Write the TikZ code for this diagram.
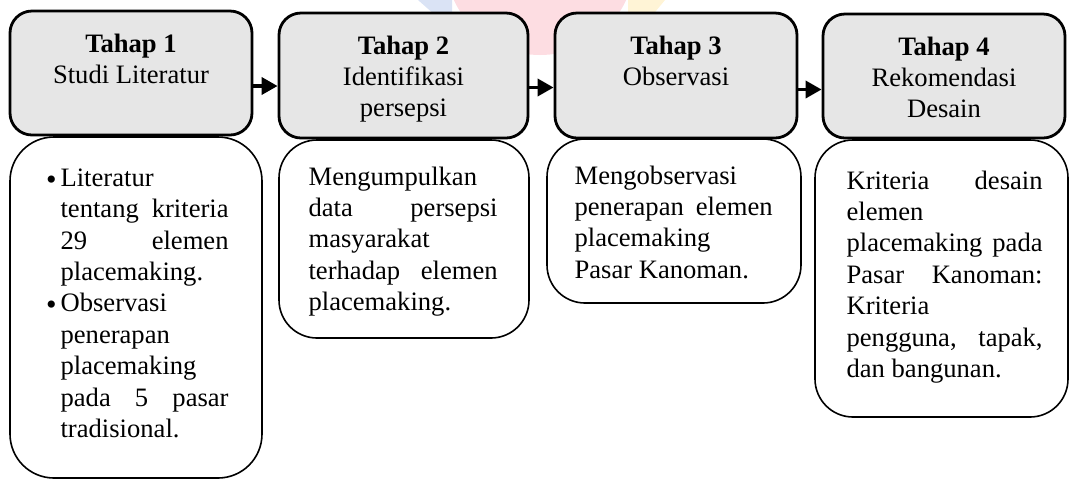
\documentclass[tikz,border=0pt]{standalone}
\usepackage{fontspec}
\setmainfont{Liberation Serif}
\usetikzlibrary{positioning,arrows.meta}
\setlength{\parindent}{0pt}
\setlength{\parskip}{0pt}
\tolerance=10000
\hyphenpenalty=10000
\hbadness=10000
\definecolor{stagefill}{RGB}{230,230,230}
\definecolor{wmpink}{RGB}{253,221,226}
\definecolor{wmblue}{RGB}{218,227,245}
\definecolor{wmyellow}{RGB}{255,244,214}
\newcommand{\pmitem}[1]{\noindent\hangindent=7.25pt\hangafter=1\makebox[7.25pt][l]{\raisebox{-1.4pt}{\fontsize{15pt}{15pt}\selectfont\textbullet}}#1\par}
\tikzset{
  stage/.style={draw=black,line width=1.4pt,fill=stagefill,rounded corners=11pt,inner sep=0pt},
  stagelabel/.style={inner sep=0pt,align=center,font=\fontsize{13.3pt}{15.5pt}\selectfont},
  descbox/.style={draw=black,line width=0.8pt,fill=white,rounded corners=19pt,inner sep=0pt},
  desctext/.style={inner sep=0pt,align=justify,font=\fontsize{13.3pt}{15.7pt}\selectfont},
  flow/.style={line width=1.8pt,-{Triangle[length=8pt,width=8.5pt]}}
}
\begin{document}
\begin{tikzpicture}[x=0.5pt,y=-0.5pt]
    \useasboundingbox (0,0) rectangle (1072,479);

    % watermark
    \fill[wmpink] (540,-40) circle[radius=47.5pt];
    \fill[wmblue] (418,0) -- (452,0) -- (452,30) -- cycle;
    \fill[wmyellow] (628,0) -- (665,0) -- (628,45) -- cycle;

    \node[stage,minimum width=121pt,minimum height=62pt] (s1) at (131,73) {};
    \node[stage,minimum width=124.5pt,minimum height=62.5pt] (s2) at (403.5,75.5) {};
    \node[stage,minimum width=121pt,minimum height=62.5pt] (s3) at (676,75.5) {};
    \node[stage,minimum width=121pt,minimum height=62pt] (s4) at (944,76) {};

    \node[stagelabel,below=12pt of s1.north] (l1) {\textbf{Tahap 1}\\Studi Literatur};
    \node[stagelabel,below=12pt of s2.north] (l2) {\textbf{Tahap 2}\\Identifikasi\\persepsi};
    \node[stagelabel,below=12pt of s3.north] (l3) {\textbf{Tahap 3}\\Observasi};
    \node[stagelabel,below=12pt of s4.north] (l4) {\textbf{Tahap 4}\\Rekomendasi\\Desain};

    \draw[flow] ([yshift=-6.5pt]s1.east) -- ([yshift=-6.5pt]s1.east -| s2.west);
    \draw[flow] ([yshift=-6pt]s2.east) -- ([yshift=-6pt]s2.east -| s3.west);
    \draw[flow] ([yshift=-7pt]s3.east) -- ([yshift=-7pt]s3.east -| s4.west);

    \node[descbox,rounded corners=22pt,minimum width=126pt,minimum height=170.5pt] (d1) at (136,307.5) {};
    \node[descbox,minimum width=125pt,minimum height=99pt] (d2) at (404,239) {};
    \node[descbox,minimum width=127pt,minimum height=82pt] (d3) at (674,221) {};
    \node[descbox,minimum width=126.5pt,minimum height=138.5pt] (d4) at (941.5,278.5) {};

    \node[desctext,text width=91.25pt,below right=16pt and 18.25pt of d1.north west] (t1) {%
      \pmitem{Literatur\linebreak tentang kriteria\linebreak 29 elemen\linebreak placemaking.}%
      \pmitem{Observasi\linebreak penerapan\linebreak placemaking\linebreak pada 5 pasar\linebreak tradisional.}};
    \node[desctext,text width=94.5pt,below right=13.5pt and 15pt of d2.north west] (t2)
      {Mengumpulkan\linebreak data persepsi\linebreak masyarakat\linebreak terhadap elemen\linebreak placemaking.};
    \node[desctext,text width=99pt,below right=13.5pt and 14pt of d3.north west] (t3)
      {Mengobservasi\linebreak penerapan elemen\linebreak placemaking\linebreak Pasar Kanoman.};
    \node[desctext,text width=98pt,below right=15.5pt and 16pt of d4.north west] (t4)
      {Kriteria desain\linebreak elemen\linebreak placemaking pada\linebreak Pasar Kanoman:\linebreak Kriteria\linebreak pengguna, tapak,\linebreak dan bangunan.};
\end{tikzpicture}
\end{document}
